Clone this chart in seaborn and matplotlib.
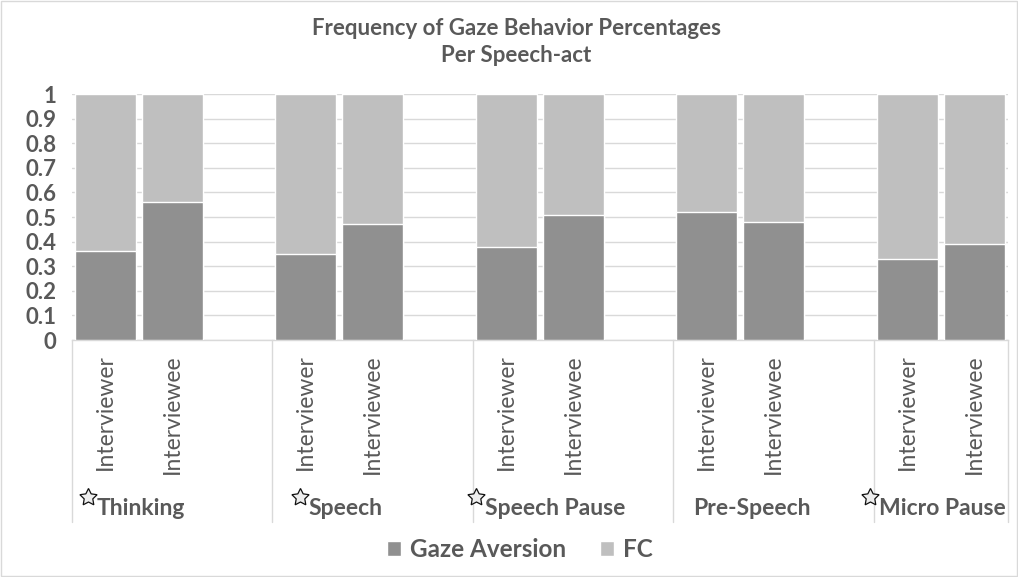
import matplotlib
matplotlib.use("Agg")
import matplotlib.pyplot as plt
import matplotlib.transforms as mtransforms
from matplotlib.patches import Rectangle, Patch
import numpy as np
import pandas as pd
import seaborn as sns

# Data
speech_acts = ["Thinking", "Speech", "Speech Pause", "Pre-Speech", "Micro Pause"]
starred = [True, True, True, False, True]
roles = ["Interviewer", "Interviewee"]
gaze_aversion = [0.36, 0.56, 0.35, 0.47, 0.38, 0.51, 0.52, 0.48, 0.33, 0.39]
fc = [0.64, 0.44, 0.65, 0.53, 0.62, 0.49, 0.48, 0.52, 0.67, 0.61]

DARK = "#909090"
LIGHT = "#bfbfbf"
TEXT = "#595959"
GRID = "#d9d9d9"

sns.set_theme(style="white")
plt.rcParams["font.family"] = ["Lato", "DejaVu Sans"]

# Each speech act takes three slots: two bars and a blank spacer
rows = []
k = 0
for i, act in enumerate(speech_acts):
    for j, role in enumerate(roles):
        rows.append({"pos": 3 * i + j, "act": act, "role": role,
                     "gaze": gaze_aversion[k], "total": gaze_aversion[k] + fc[k]})
        k += 1
df = pd.DataFrame(rows)

fig = plt.figure(figsize=(10.18, 5.77), dpi=100)
ax = fig.add_axes([0.0707, 0.4107, 0.919, 0.4263])

sns.barplot(data=df, x="pos", y="total", native_scale=True, color=LIGHT,
            width=0.91, saturation=1, ax=ax, zorder=2)
sns.barplot(data=df, x="pos", y="gaze", native_scale=True, color=DARK,
            width=0.91, saturation=1, ax=ax, zorder=3)

ax.set_xlim(-0.5, 13.5)
ax.set_ylim(0, 1)
ticks = np.round(np.arange(0, 1.01, 0.1), 1)
ax.set_yticks(ticks)
ax.set_yticklabels(["0" if t == 0 else "1" if t == 1 else f"{t:.1f}" for t in ticks],
                   fontsize=16, fontweight="bold", color=TEXT)
ax.tick_params(axis="y", length=0, pad=11)
ax.set_xticks([])
ax.set_xlabel("")
ax.set_ylabel("")
ax.grid(axis="y", color=GRID, linewidth=1, zorder=0)
ax.set_axisbelow(True)
for side in ["top", "right", "left"]:
    ax.spines[side].set_visible(False)
ax.spines["bottom"].set_color(GRID)
ax.spines["bottom"].set_linewidth(1)

trans = mtransforms.blended_transform_factory(ax.transData, ax.transAxes)

# Role labels under each bar
for _, r in df.iterrows():
    ax.text(r["pos"], -0.058, r["role"], rotation=90, ha="center", va="top",
            fontsize=16.5, color=TEXT, transform=trans)

# Group separators of the category axis
for xb in [-0.5, 2.5, 5.5, 8.5, 11.5, 13.5]:
    ax.plot([xb, xb], [0, -0.74], color=GRID, linewidth=1, transform=trans,
            clip_on=False)

# Speech-act labels, with a star for the significant ones
label_shift = [0.03, 0.09, 0.23, 0.18, 0.02]
fig.canvas.draw()
for i, act in enumerate(speech_acts):
    cx = 3 * i + 0.5 + label_shift[i]
    t = ax.text(cx, -0.683, act, ha="center", va="center", fontsize=16.5,
                fontweight="bold", color=TEXT, transform=trans)
    if starred[i]:
        bb = t.get_window_extent(renderer=fig.canvas.get_renderer())
        inv = ax.transData.inverted()
        x0 = inv.transform((bb.x0, bb.y0))[0]
        ax.plot([x0 - 0.13], [-0.64], marker=(5, 1, 0), markersize=13,
                markerfacecolor="#eeeeee", markeredgecolor="#111111",
                markeredgewidth=0.9, transform=trans, clip_on=False)

fig.text(0.507, 0.951, "Frequency of Gaze Behavior Percentages", ha="center",
         va="center", fontsize=16, fontweight="bold", color=TEXT)
fig.text(0.507, 0.904, "Per Speech-act", ha="center", va="center",
         fontsize=16, fontweight="bold", color=TEXT)

handles = [Patch(facecolor=DARK, label="Gaze Aversion"),
           Patch(facecolor=LIGHT, label="FC")]
leg = fig.legend(handles=handles, loc="center", bbox_to_anchor=(0.511, 0.048),
                 ncol=2, frameon=False, fontsize=17.5, handlelength=0.55,
                 handleheight=0.55, handletextpad=0.4, columnspacing=1.4)
for txt in leg.get_texts():
    txt.set_color(TEXT)
    txt.set_fontweight("bold")

fig.patches.append(Rectangle((0.001, 0.001), 0.998, 0.998, transform=fig.transFigure,
                             fill=False, edgecolor=GRID, linewidth=1))

fig.savefig("out.png", dpi=100)
